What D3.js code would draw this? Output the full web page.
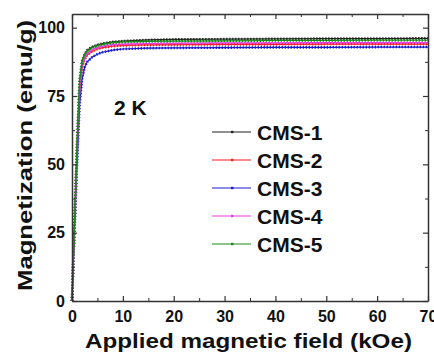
<!DOCTYPE html>
<html>
<head>
<meta charset="utf-8">
<script src="https://cdn.jsdelivr.net/npm/d3@7/dist/d3.min.js"></script>
<style>
  html, body { margin: 0; padding: 0; background: #fff; }
  svg { display: block; font-family: Arial, "Liberation Sans", sans-serif; }
</style>
</head>
<body>
<div id="chart"></div>
<script>
// applied field (kOe)
const fields = [0, 0.5, 1, 1.5, 2, 2.5, 3, 4, 5, 6, 8, 10, 15, 20, 30, 40, 50, 60, 70];

const cms1 = [0, 29, 57, 80, 87.5, 90.3, 91.8, 93.0, 93.7, 94.2, 94.8, 95.1, 95.5, 95.7, 95.8, 95.9, 96.0, 96.0, 96.1];
const cms2 = [0, 28, 55, 77, 85.5, 88.5, 90.0, 91.4, 92.2, 92.7, 93.2, 93.5, 93.7, 93.8, 93.9, 93.9, 94.0, 94.0, 94.0];
const cms3 = [0, 26, 51, 72, 81.5, 85.5, 87.5, 89.3, 90.3, 91.0, 91.8, 92.2, 92.5, 92.6, 92.7, 92.8, 92.8, 92.9, 92.9];
const cms4 = [0, 28, 56, 78, 86, 89.0, 90.6, 91.9, 92.7, 93.2, 93.8, 94.0, 94.2, 94.3, 94.4, 94.4, 94.5, 94.5, 94.5];
const cms5 = [0, 29.5, 58, 81, 88, 90.3, 91.5, 92.7, 93.4, 93.9, 94.5, 94.8, 95.0, 95.1, 95.2, 95.3, 95.3, 95.4, 95.4];

const seriesNames = ['CMS-1', 'CMS-2', 'CMS-3', 'CMS-4', 'CMS-5'];
const seriesValues = [cms1, cms2, cms3, cms4, cms5];
const seriesColors = ['#222222', '#ff1a1a', '#1a1acc', '#e040e0', '#1a8a1a'];

const xTicks = [0, 10, 20, 30, 40, 50, 60, 70];
const yTicks = [0, 25, 50, 75, 100];

const W = 434, H = 353;
const M = { top: 14, right: 6, bottom: 52, left: 72 };
const innerW = W - M.left - M.right;
const innerH = H - M.top - M.bottom;

const svg = d3.select('#chart').append('svg')
  .attr('width', W).attr('height', H);

const g = svg.append('g').attr('transform', `translate(${M.left},${M.top})`);

const x = d3.scaleLinear().domain([0, 70]).range([0, innerW]);
const y = d3.scaleLinear().domain([0, 105]).range([innerH, 0]);

// series
const line = d3.line().x((d) => x(d[0])).y((d) => y(d[1]));
seriesValues.forEach((vals, i) => {
  const pts = fields.map((f, j) => [f, vals[j]]);
  g.append('path').datum(pts)
    .attr('fill', 'none').attr('stroke', seriesColors[i])
    .attr('stroke-width', 1.2).attr('d', line);
  // dense symbol look
  g.append('path').datum(pts)
    .attr('fill', 'none').attr('stroke', seriesColors[i])
    .attr('stroke-width', 2.6).attr('stroke-dasharray', '1.3,1.7')
    .attr('d', line);
});

// axes with inward ticks
const axisColor = '#333';
function styleAxis(sel) {
  sel.select('.domain').attr('stroke', axisColor).attr('stroke-width', 1.5);
  sel.selectAll('.tick line').attr('stroke', axisColor).attr('stroke-width', 1.2);
}
function minorAxis(sel) {
  sel.select('.domain').remove();
  sel.selectAll('.tick line').attr('stroke', axisColor);
}

const minorX = d3.range(5, 70, 10);
const minorY = d3.range(12.5, 105, 25);

const axBottom = g.append('g').attr('transform', `translate(0,${innerH})`)
  .call(d3.axisBottom(x).tickValues(xTicks).tickSizeInner(-5).tickSizeOuter(0).tickPadding(10));
axBottom.selectAll('.tick text')
  .attr('font-size', 16).attr('font-weight', 'bold').attr('fill', '#111');
styleAxis(axBottom);
g.append('g').attr('transform', `translate(0,${innerH})`)
  .call(d3.axisBottom(x).tickValues(minorX).tickSizeInner(-3).tickSizeOuter(0).tickFormat(''))
  .call(minorAxis);

const axTop = g.append('g')
  .call(d3.axisTop(x).tickValues(xTicks).tickSizeInner(-5).tickSizeOuter(0).tickFormat(''));
styleAxis(axTop);
g.append('g')
  .call(d3.axisTop(x).tickValues(minorX).tickSizeInner(-3).tickSizeOuter(0).tickFormat(''))
  .call(minorAxis);

const axLeft = g.append('g')
  .call(d3.axisLeft(y).tickValues(yTicks).tickSizeInner(-5).tickSizeOuter(0).tickPadding(7));
axLeft.selectAll('.tick text')
  .attr('font-size', 16).attr('font-weight', 'bold').attr('fill', '#111');
styleAxis(axLeft);
g.append('g')
  .call(d3.axisLeft(y).tickValues(minorY).tickSizeInner(-3).tickSizeOuter(0).tickFormat(''))
  .call(minorAxis);

const axRight = g.append('g').attr('transform', `translate(${innerW},0)`)
  .call(d3.axisRight(y).tickValues(yTicks).tickSizeInner(-5).tickSizeOuter(0).tickFormat(''));
styleAxis(axRight);
g.append('g').attr('transform', `translate(${innerW},0)`)
  .call(d3.axisRight(y).tickValues(minorY).tickSizeInner(-3).tickSizeOuter(0).tickFormat(''))
  .call(minorAxis);

// axis titles
svg.append('text')
  .attr('x', 85).attr('y', 348)
  .attr('font-size', 21).attr('font-weight', 'bold').attr('fill', '#111')
  .attr('textLength', 327).attr('lengthAdjust', 'spacingAndGlyphs')
  .text('Applied magnetic field (kOe)');

svg.append('text')
  .attr('transform', 'translate(32,291) rotate(-90)')
  .attr('font-size', 21).attr('font-weight', 'bold').attr('fill', '#111')
  .attr('textLength', 271).attr('lengthAdjust', 'spacingAndGlyphs')
  .text('Magnetization (emu/g)');

// temperature label
svg.append('text')
  .attr('x', 114).attr('y', 115)
  .attr('font-size', 21).attr('font-weight', 'bold').attr('fill', '#111')
  .text('2 K');

// legend
const legend = svg.append('g').attr('transform', 'translate(212,132)');
seriesNames.forEach((name, i) => {
  const row = legend.append('g').attr('transform', `translate(0,${i * 28})`);
  row.append('line')
    .attr('x1', 0).attr('x2', 39).attr('y1', 0).attr('y2', 0)
    .attr('stroke', seriesColors[i]).attr('stroke-width', 1.2);
  row.append('rect')
    .attr('x', 19).attr('y', -1.2).attr('width', 2.4).attr('height', 2.4)
    .attr('fill', seriesColors[i]);
  row.append('text')
    .attr('x', 45).attr('y', 7.5)
    .attr('font-size', 21).attr('font-weight', 'bold').attr('fill', '#111')
    .text(name);
});
</script>
</body>
</html>
